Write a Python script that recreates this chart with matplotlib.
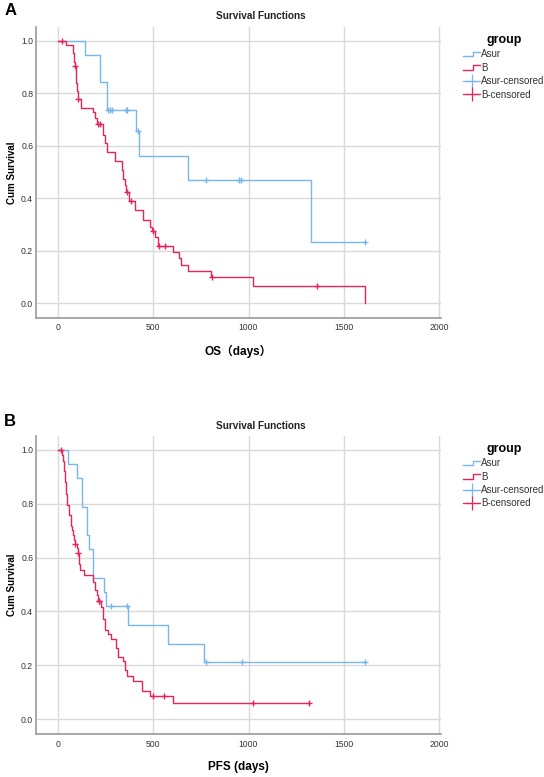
import numpy as np
import matplotlib
matplotlib.use('Agg')
import matplotlib.pyplot as plt
from matplotlib.lines import Line2D
from matplotlib.legend_handler import HandlerBase

plt.rcParams['font.family'] = ['Liberation Sans', 'Noto Sans CJK SC', 'DejaVu Sans']

# OS panel (A): step times / survival after step, censor times
os_asur_t = [0, 140, 219, 255, 407, 425, 684, 1330]
os_asur_s = [1.0, 0.947, 0.842, 0.737, 0.655, 0.561, 0.468, 0.234]
os_asur_cens = [263, 272, 281, 357, 364, 421, 776, 948, 962, 1610]
os_asur_end = 1610

os_b_t = [0, 40, 80, 84, 88, 92, 96, 100, 104, 118, 181, 193, 202, 237, 246, 258, 299,
          334, 342, 351, 357, 374, 404, 445, 483, 492, 509, 527, 602, 637, 646, 684,
          803, 1022, 1611]
os_b_s = [1.0, 0.984, 0.952, 0.920, 0.904, 0.872, 0.840, 0.808, 0.777, 0.745, 0.727,
          0.704, 0.681, 0.641, 0.609, 0.577, 0.542, 0.507, 0.475, 0.450, 0.425, 0.390,
          0.355, 0.315, 0.291, 0.275, 0.253, 0.218, 0.196, 0.171, 0.146, 0.123, 0.099,
          0.066, 0.0]
os_b_cens = [20, 89, 106, 211, 219, 362, 385, 500, 532, 562, 808, 1360]
os_b_end = 1611

# PFS panel (B)
pfs_asur_t = [0, 53, 97, 127, 149, 163, 181, 240, 252, 368, 579, 768]
pfs_asur_s = [1.0, 0.947, 0.894, 0.789, 0.684, 0.632, 0.526, 0.474, 0.421, 0.351,
              0.281, 0.211]
pfs_asur_cens = [277, 363, 777, 965, 1610]
pfs_asur_end = 1610

pfs_b_t = [0, 20, 25, 30, 33, 36, 38, 40, 42, 44, 48, 58, 65, 70, 76, 83, 86, 97, 102,
           111, 114, 137, 182, 193, 202, 208, 226, 234, 237, 246, 263, 276, 304, 316,
           342, 351, 360, 395, 442, 483, 605]
pfs_b_s = [1.0, 0.98, 0.96, 0.94, 0.92, 0.90, 0.88, 0.86, 0.835, 0.815, 0.795, 0.758,
           0.717, 0.704, 0.683, 0.665, 0.650, 0.634, 0.617, 0.578, 0.553, 0.537, 0.508,
           0.478, 0.460, 0.440, 0.415, 0.390, 0.371, 0.333, 0.315, 0.298, 0.264, 0.231,
           0.215, 0.184, 0.159, 0.140, 0.105, 0.087, 0.059]
pfs_b_cens = [15, 89, 106, 213, 216, 500, 556, 1021, 1320]
pfs_b_end = 1320

groups = ['Asur', 'B']
blue = '#78b6ee'
red = '#e5265c'
grid_c = '#dadada'


class HandlerStep(HandlerBase):
    def create_artists(self, legend, orig_handle, xd, yd, width, height, fontsize, trans):
        x = [xd, xd + width * 0.55, xd + width * 0.55, xd + width]
        y = [yd + height * 0.15, yd + height * 0.15, yd + height * 0.8, yd + height * 0.8]
        ln = Line2D(x, y, color=orig_handle.get_color(), lw=1, transform=trans)
        return [ln]


def surv_at(t, s, x):
    idx = np.searchsorted(t, x, side='right') - 1
    return np.array(s)[idx]


def draw_panel(ax, curves, xlabel, letter, ytop, ymid):
    handles = []
    for (t, s, cens, end), col in zip(curves, [blue, red]):
        tt = list(t) + [end]
        ss = list(s) + [s[-1]]
        ln, = ax.step(tt, ss, where='post', color=col, lw=1, zorder=3)
        ax.plot(cens, surv_at(t, s, cens), '+', color=col, ms=5, mew=1, zorder=4)
        handles.append(ln)
    cens_h = [Line2D([], [], color=c, marker='+', ms=10, mew=0.9, lw=0.9) for c in [blue, red]]

    ax.set_xlim(-117, 2012)
    ax.set_ylim(-0.056, 1.052)
    ax.set_xticks([0, 500, 1000, 1500, 2000])
    ax.set_yticks([0.0, 0.2, 0.4, 0.6, 0.8, 1.0])
    ax.set_yticklabels(['0.0', '0.2', '0.4', '0.6', '0.8', '1.0'])
    ax.grid(True, color=grid_c, lw=1)
    ax.set_axisbelow(True)
    ax.tick_params(length=0, labelsize=6.2, labelcolor='#333333')
    ax.tick_params(axis='y', pad=2)
    ax.tick_params(axis='x', pad=4)
    for sp in ['top', 'right']:
        ax.spines[sp].set_visible(False)
    for sp in ['left', 'bottom']:
        ax.spines[sp].set_color('#9a9a9a')
        ax.spines[sp].set_linewidth(1.2)

    leg = ax.legend(handles + cens_h, [groups[0], groups[1], 'Asur-censored', 'B-censored'],
                    handler_map={handles[0]: HandlerStep(), handles[1]: HandlerStep()},
                    title='group', loc='upper left', bbox_to_anchor=(1.045, 0.99),
                    frameon=False, fontsize=7, handlelength=1.75, handletextpad=0.1,
                    labelspacing=0.35, borderaxespad=0.2, borderpad=0.2)
    leg.get_title().set_fontweight('bold')
    leg.get_title().set_fontsize(9)
    for txt in leg.get_texts():
        txt.set_color('#333333')

    fig.text(0.022, ymid, 'Cum Survival', rotation=90, ha='center', va='center',
             fontsize=7, fontweight='bold')
    ax.set_xlabel(xlabel, fontsize=8.5, fontweight='bold', labelpad=9)
    fig.text(0.48, ytop, 'Survival Functions', ha='center', va='center',
             fontsize=7.2, fontweight='bold', color='#222222')
    fig.text(0.008, ytop + 0.006, letter, ha='left', va='center', fontsize=12,
             fontweight='bold')


fig = plt.figure(figsize=(5.44, 7.77), dpi=100)
ax1 = fig.add_axes([0.066, 0.591, 0.745, 0.374])
ax2 = fig.add_axes([0.066, 0.055, 0.745, 0.384])

draw_panel(ax1, [(os_asur_t, os_asur_s, os_asur_cens, os_asur_end),
                 (os_b_t, os_b_s, os_b_cens, os_b_end)], 'OS（days）', 'A', 0.980, 0.778)
draw_panel(ax2, [(pfs_asur_t, pfs_asur_s, pfs_asur_cens, pfs_asur_end),
                 (pfs_b_t, pfs_b_s, pfs_b_cens, pfs_b_end)], 'PFS (days)', 'B', 0.452, 0.247)

fig.savefig('out.png', dpi=100)
